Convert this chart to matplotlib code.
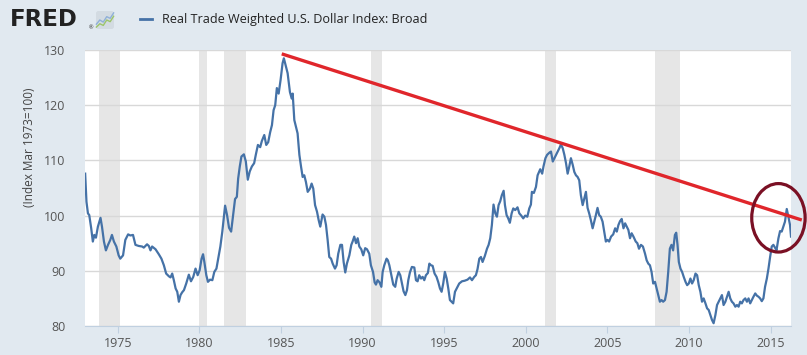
import matplotlib
matplotlib.use("Agg")
import matplotlib.pyplot as plt
import matplotlib.patches as patches

plt.rcParams['font.family'] = ['Open Sans', 'DejaVu Sans']

# Real Trade Weighted U.S. Dollar Index: Broad (decimal year, index)
years_1 = [1973.01, 1973.09, 1973.18, 1973.26, 1973.38, 1973.48, 1973.57, 1973.67, 1973.79, 1973.95,
           1974.04, 1974.16, 1974.28, 1974.41, 1974.55, 1974.65, 1974.77, 1974.92, 1975.06, 1975.16,
           1975.33, 1975.47, 1975.64, 1975.78, 1975.94, 1976.09, 1976.29, 1976.50, 1976.60, 1976.80,
           1976.91, 1977.01, 1977.11, 1977.32, 1977.52, 1977.68, 1977.83, 1977.97, 1978.14, 1978.24,
           1978.34, 1978.44, 1978.55, 1978.65, 1978.75, 1978.85, 1978.95, 1979.06, 1979.20, 1979.36,
           1979.49, 1979.63, 1979.77, 1979.90, 1980.02, 1980.14, 1980.23, 1980.31, 1980.43, 1980.53,
           1980.66, 1980.80, 1980.92, 1981.05, 1981.17, 1981.29, 1981.41, 1981.58, 1981.70, 1981.82,
           1981.95, 1982.07, 1982.19, 1982.30, 1982.38, 1982.48, 1982.58, 1982.73, 1982.85, 1982.97,
           1983.09, 1983.22, 1983.36, 1983.46, 1983.59, 1983.73, 1983.83, 1983.98, 1984.10, 1984.22,
           1984.34, 1984.45, 1984.55, 1984.65, 1984.75, 1984.86, 1984.98, 1985.10, 1985.18]
values_1 = [107.6, 102.5, 100.4, 100.1, 97.7, 95.3, 96.5, 96.0, 98.0, 99.6,
            98.0, 95.3, 93.7, 94.7, 95.6, 96.5, 95.3, 94.4, 92.8, 92.2,
            92.8, 95.6, 96.6, 96.4, 96.5, 94.7, 94.5, 94.4, 94.2, 94.8,
            94.5, 93.7, 94.4, 93.9, 93.0, 92.2, 91.0, 89.5, 89.0, 88.8,
            89.5, 88.3, 86.8, 86.2, 84.4, 85.6, 86.1, 86.5, 87.7, 89.3,
            88.1, 88.9, 90.4, 89.2, 90.1, 92.2, 93.0, 91.6, 89.2, 88.0,
            88.4, 88.3, 89.8, 90.4, 92.4, 94.4, 97.1, 101.8, 100.1, 97.8,
            97.1, 100.1, 103.0, 103.4, 106.7, 108.9, 110.7, 111.1, 109.8, 106.5,
            108.0, 108.9, 109.5, 111.0, 112.8, 112.4, 113.5, 114.6, 112.8, 113.3,
            115.1, 116.4, 119.1, 120.0, 123.1, 122.1, 124.6, 127.6, 128.5]

years_2 = [1985.41, 1985.55, 1985.66, 1985.72, 1985.82, 1985.92, 1986.02, 1986.13, 1986.23, 1986.33,
           1986.43, 1986.53, 1986.64, 1986.78, 1986.88, 1986.98, 1987.09, 1987.21, 1987.31, 1987.41,
           1987.55, 1987.66, 1987.76, 1987.86, 1987.96, 1988.07, 1988.17, 1988.31, 1988.41, 1988.51,
           1988.64, 1988.74, 1988.84, 1988.94, 1989.04, 1989.19, 1989.31, 1989.39, 1989.49, 1989.60,
           1989.70, 1989.80, 1989.92, 1990.04, 1990.16, 1990.27, 1990.41, 1990.51, 1990.64, 1990.74,
           1990.82, 1990.92, 1991.04, 1991.15, 1991.23, 1991.33, 1991.47, 1991.55, 1991.64, 1991.76,
           1991.88, 1992.00, 1992.09, 1992.21, 1992.31, 1992.41, 1992.51, 1992.62, 1992.72, 1992.80,
           1992.90, 1993.02, 1993.17, 1993.27, 1993.37, 1993.47, 1993.58, 1993.68, 1993.78, 1993.88,
           1994.00, 1994.09, 1994.19, 1994.29, 1994.41, 1994.53, 1994.64, 1994.74, 1994.84, 1994.94,
           1995.04, 1995.15, 1995.25, 1995.35, 1995.45, 1995.55, 1995.66, 1995.78, 1995.92, 1996.09,
           1996.25, 1996.43, 1996.58, 1996.70, 1996.84, 1996.94, 1997.04, 1997.15, 1997.25, 1997.35,
           1997.49, 1997.62, 1997.72, 1997.82, 1997.92, 1998.02, 1998.13, 1998.23, 1998.33, 1998.43,
           1998.53, 1998.64, 1998.72, 1998.82, 1998.92, 1999.02, 1999.13, 1999.23, 1999.35, 1999.49,
           1999.60, 1999.72, 1999.84, 1999.96, 2000.09, 2000.21, 2000.31, 2000.37, 2000.49, 2000.62,
           2000.72, 2000.88]
values_2 = [125.8, 122.4, 121.2, 122.1, 117.3, 116.1, 114.9, 111.0, 108.9, 107.0,
            107.3, 106.1, 104.3, 104.9, 105.8, 104.9, 101.9, 100.7, 99.2, 98.0,
            100.2, 99.8, 98.3, 95.6, 92.5, 92.2, 91.3, 90.4, 91.0, 93.1,
            94.7, 94.7, 91.6, 89.7, 91.3, 92.8, 94.7, 95.3, 96.2, 95.0,
            95.9, 94.4, 93.9, 92.8, 94.1, 93.9, 93.1, 91.0, 89.8, 87.9,
            87.5, 88.3, 87.9, 87.1, 89.8, 91.0, 92.2, 91.9, 91.0, 89.2,
            87.5, 87.1, 88.6, 89.8, 89.2, 87.7, 86.3, 85.6, 86.5, 88.3,
            89.7, 90.7, 90.6, 88.3, 88.1, 89.2, 88.6, 88.9, 88.3, 89.2,
            89.6, 91.3, 91.0, 90.9, 89.5, 88.9, 87.9, 86.8, 86.2, 87.7,
            89.8, 88.6, 86.8, 84.7, 84.4, 84.1, 86.2, 86.9, 87.7, 88.1,
            88.2, 88.4, 88.8, 88.3, 88.9, 89.2, 90.3, 92.2, 92.5, 91.6,
            92.7, 94.0, 94.7, 95.9, 98.3, 102.0, 100.4, 99.8, 101.9, 102.6,
            103.7, 104.5, 101.9, 100.1, 99.5, 98.7, 100.4, 101.3, 101.0, 101.5,
            100.4, 100.0, 99.5, 100.0, 99.8, 101.3, 102.0, 104.3, 104.1, 105.2,
            107.3, 108.4]

years_3 = [2001.00, 2001.08, 2001.20, 2001.30, 2001.44, 2001.54, 2001.65, 2001.75, 2001.85, 2001.95,
           2002.05, 2002.15, 2002.26, 2002.36, 2002.46, 2002.56, 2002.66, 2002.76, 2002.87, 2002.97,
           2003.07, 2003.17, 2003.27, 2003.37, 2003.48, 2003.58, 2003.68, 2003.78, 2003.88, 2003.98,
           2004.09, 2004.19, 2004.29, 2004.39, 2004.49, 2004.59, 2004.70, 2004.80, 2004.90, 2005.00,
           2005.10, 2005.22, 2005.35, 2005.47, 2005.57, 2005.67, 2005.77, 2005.87, 2005.98, 2006.08,
           2006.18, 2006.28, 2006.38, 2006.48, 2006.59, 2006.73, 2006.83, 2006.93, 2007.05, 2007.17,
           2007.30, 2007.40, 2007.50, 2007.60, 2007.70, 2007.80, 2007.91, 2008.01, 2008.11, 2008.21,
           2008.31, 2008.41, 2008.52, 2008.62, 2008.72, 2008.82, 2008.92, 2009.02, 2009.13, 2009.21,
           2009.29, 2009.37, 2009.47, 2009.57, 2009.67, 2009.78, 2009.88, 2009.98, 2010.08, 2010.18,
           2010.28, 2010.39, 2010.49, 2010.59, 2010.69, 2010.79, 2010.89, 2011.00, 2011.10, 2011.20,
           2011.30, 2011.40, 2011.50, 2011.61, 2011.71, 2011.81, 2011.91, 2012.01, 2012.11, 2012.22,
           2012.32, 2012.42, 2012.52, 2012.62, 2012.72, 2012.83, 2012.93, 2013.03, 2013.13, 2013.23,
           2013.33, 2013.44, 2013.54, 2013.64, 2013.74, 2013.84, 2013.94, 2014.05, 2014.15, 2014.25,
           2014.35, 2014.45, 2014.55, 2014.65, 2014.76, 2014.86, 2014.96, 2015.06, 2015.16, 2015.26,
           2015.35, 2015.47, 2015.57, 2015.67, 2015.77, 2015.87, 2015.98, 2016.08, 2016.18, 2016.24]
values_3 = [107.6, 108.9, 110.4, 111.0, 111.4, 111.6, 109.8, 110.4, 111.0, 111.6,
            112.2, 112.9, 112.2, 111.0, 109.5, 107.6, 108.9, 110.4, 109.2, 107.9,
            107.3, 107.0, 106.4, 103.7, 101.9, 103.1, 104.3, 101.4, 100.4, 99.2,
            97.7, 98.9, 100.1, 101.4, 100.1, 99.8, 98.9, 97.1, 95.3, 95.6,
            95.3, 96.2, 96.6, 97.7, 97.1, 98.3, 99.0, 99.4, 97.7, 98.6,
            98.0, 97.4, 95.9, 96.8, 96.2, 95.3, 95.0, 94.0, 94.7, 94.4,
            93.1, 91.9, 91.3, 91.0, 89.8, 87.7, 88.0, 86.8, 85.6, 84.4,
            84.7, 84.4, 84.7, 86.2, 89.8, 94.0, 94.7, 93.7, 96.5, 96.9,
            94.7, 91.6, 90.4, 89.8, 88.9, 88.0, 87.4, 87.7, 88.6, 87.7,
            88.3, 89.5, 89.2, 87.4, 86.2, 84.4, 85.0, 84.1, 83.2, 82.9,
            82.0, 81.1, 80.5, 82.0, 83.8, 84.4, 85.0, 85.6, 83.8, 84.4,
            85.3, 86.2, 85.0, 84.4, 84.1, 83.5, 83.8, 83.5, 84.4, 84.1,
            84.7, 85.0, 84.4, 85.0, 84.1, 84.7, 85.3, 85.9, 85.5, 85.3,
            85.0, 84.5, 85.0, 87.1, 88.6, 90.4, 92.5, 94.4, 94.7, 94.2,
            93.7, 95.9, 97.2, 97.1, 98.0, 98.9, 101.2, 99.8, 98.3, 96.2]

years = years_1 + years_2 + years_3
values = values_1 + values_2 + values_3

# NBER recessions (start, end)
recessions = [(1973.83, 1975.17), (1980.0, 1980.5), (1981.5, 1982.83),
              (1990.5, 1991.17), (2001.17, 2001.83), (2007.92, 2009.42)]

# hand-drawn trend line and circle annotation
trend_x = [1985.05, 2016.9]
trend_y = [129.3, 99.2]
circle_center = (2015.47, 99.6)
circle_size = (3.27, 12.4)

x_ticks = [1975, 1980, 1985, 1990, 1995, 2000, 2005, 2010, 2015]
y_ticks = [80, 90, 100, 110, 120, 130]

# little zigzags of the logo icon
icon_x = [0, 1, 2, 3, 4, 5]
icon_blue = [1.2, 2.2, 1.7, 3.0, 2.6, 3.9]
icon_green = [0.5, 1.3, 0.9, 2.2, 1.8, 3.1]

BG = '#e1e9f0'
LINE = '#4572a7'

fig = plt.figure(figsize=(8.07, 3.55), dpi=100, facecolor=BG)
ax = fig.add_axes([0.10533, 0.08169, 0.87485, 0.77746])
ax.set_facecolor('white')

for start, end in recessions:
    ax.axvspan(start, end, color='#e6e6e6', lw=0, zorder=0)

ax.plot(years, values, color=LINE, lw=1.6, zorder=3)

ax.plot(trend_x, trend_y, color='#e0262b', lw=2.4, solid_capstyle='butt',
        clip_on=False, zorder=4)
ax.add_patch(patches.Ellipse(circle_center, circle_size[0], circle_size[1],
                             fill=False, edgecolor='#7a1024', lw=2.3,
                             clip_on=False, zorder=5))

ax.set_xlim(1973.0, 2016.24)
ax.set_ylim(80, 130)
ax.set_xticks(x_ticks)
ax.set_yticks(y_ticks)
ax.grid(axis='y', color='#d8d8d8', lw=1)
ax.set_axisbelow(True)

for side in ['top', 'right', 'left']:
    ax.spines[side].set_visible(False)
ax.spines['bottom'].set_color('#c0d0e0')
ax.tick_params(axis='x', length=5, color='#c0d0e0', labelsize=9, labelcolor='#555555', pad=3)
ax.tick_params(axis='y', length=0, labelsize=9, labelcolor='#555555', pad=14)

fig.text(0.037, 0.585, '(Index Mar 1973=100)', rotation=90, ha='center', va='center',
         fontsize=8.5, color='#444444')

# header: FRED logo and legend
fig.text(0.012, 0.945, 'FRED', fontsize=16.5, fontweight='bold', color='#222222',
         family='DejaVu Sans', va='center', ha='left')
fig.text(89 / 807, 1 - 28 / 355, '®', fontsize=4, color='#222222', va='center', ha='left')
icon = fig.add_axes([95 / 807, 1 - 30 / 355, 20 / 807, 20 / 355])
icon.add_patch(patches.FancyBboxPatch((0.05, 0.05), 0.9, 0.9, boxstyle='round,pad=0,rounding_size=0.12',
                                      transform=icon.transAxes, facecolor='#d3dbe2',
                                      edgecolor='none'))
icon.plot(icon_x, icon_blue, color='#8fb0d8', lw=1)
icon.plot(icon_x, icon_green, color='#9cc56a', lw=1)
icon.set_xlim(-0.4, 5.4)
icon.set_ylim(-0.2, 4.6)
icon.axis('off')

fig.add_artist(plt.Line2D([140 / 807, 152 / 807], [1 - 19 / 355, 1 - 19 / 355],
                          color=LINE, lw=2))
fig.text(162 / 807, 1 - 19 / 355, 'Real Trade Weighted U.S. Dollar Index: Broad',
         fontsize=9.1, color='#222222', va='center', ha='left')

fig.savefig('out.png', dpi=100, facecolor=BG)
